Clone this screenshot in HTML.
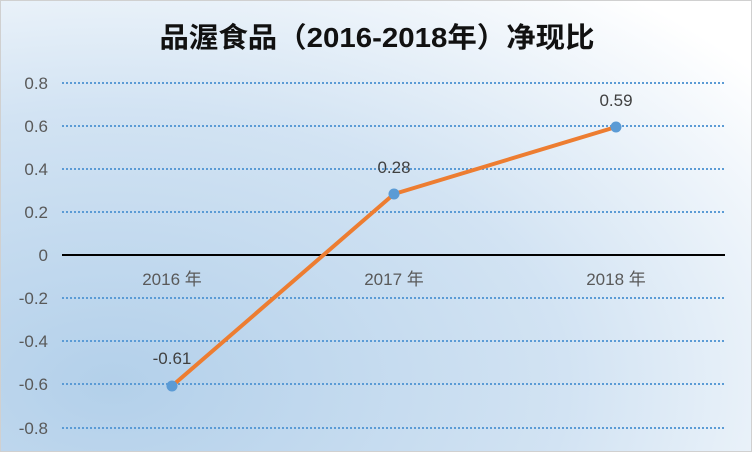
<!DOCTYPE html>
<html><head><meta charset="utf-8"><style>
html,body{margin:0;padding:0;width:752px;height:452px;overflow:hidden}
</style></head><body>
<svg width="752" height="452" xmlns="http://www.w3.org/2000/svg" font-family="Liberation Sans, Noto Sans CJK SC, sans-serif">
<defs>
<radialGradient id="bg" cx="0.15" cy="0.85" r="1.1">
<stop offset="0" stop-color="#b3d0ea"/>
<stop offset="0.55" stop-color="#d2e3f3"/>
<stop offset="1" stop-color="#ffffff"/>
</radialGradient>
</defs>
<rect x="0" y="0" width="752" height="452" fill="url(#bg)"/>
<rect x="0.5" y="0.5" width="751" height="451" fill="none" stroke="#d0d0d0"/>
<text x="377" y="47" text-anchor="middle" font-size="28" font-weight="bold" fill="#111" textLength="435" lengthAdjust="spacingAndGlyphs" font-family="Liberation Sans, Noto Sans CJK SC, sans-serif">品渥食品（2016-2018年）净现比</text>
<g stroke="#5b9bd5" stroke-width="2" stroke-dasharray="2,2">
<line x1="62" y1="83" x2="725" y2="83"/>
<line x1="62" y1="126" x2="725" y2="126"/>
<line x1="62" y1="169" x2="725" y2="169"/>
<line x1="62" y1="212" x2="725" y2="212"/>
<line x1="62" y1="298" x2="725" y2="298"/>
<line x1="62" y1="341" x2="725" y2="341"/>
<line x1="62" y1="384" x2="725" y2="384"/>
<line x1="62" y1="428" x2="725" y2="428"/>
</g>
<line x1="62" y1="255" x2="725" y2="255" stroke="#000" stroke-width="2"/>
<g font-size="17" fill="#595959" text-anchor="end">
<text x="48" y="89">0.8</text>
<text x="48" y="132">0.6</text>
<text x="48" y="175">0.4</text>
<text x="48" y="218">0.2</text>
<text x="48" y="261">0</text>
<text x="48" y="304">-0.2</text>
<text x="48" y="347">-0.4</text>
<text x="48" y="390">-0.6</text>
<text x="48" y="434">-0.8</text>
</g>
<g font-size="17" fill="#595959" text-anchor="middle">
<text x="172" y="285">2016 年</text>
<text x="394" y="285">2017 年</text>
<text x="616" y="285">2018 年</text>
</g>
<polyline points="172,386 394,194 616,127" fill="none" stroke="#ed7d31" stroke-width="4"/>
<g fill="#5b9bd5">
<circle cx="172" cy="386" r="5.5"/>
<circle cx="394" cy="194" r="5.5"/>
<circle cx="616" cy="127" r="5.5"/>
</g>
<g font-size="17" fill="#404040" text-anchor="middle">
<text x="172" y="364">-0.61</text>
<text x="394" y="173">0.28</text>
<text x="616" y="106">0.59</text>
</g>
</svg>
</body></html>
